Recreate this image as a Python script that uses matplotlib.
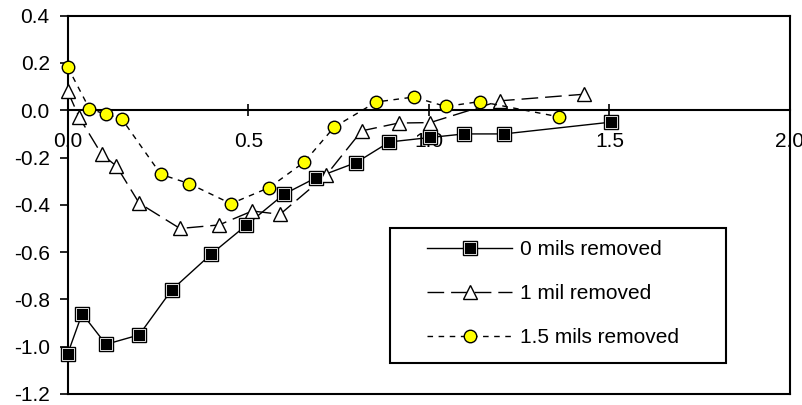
import numpy as np
import matplotlib
matplotlib.use("Agg")
import matplotlib.pyplot as plt
from matplotlib.ticker import FormatStrFormatter
from matplotlib.lines import Line2D
from matplotlib.patches import Rectangle

plt.rcParams['font.family'] = ['Liberation Sans', 'DejaVu Sans']
plt.rcParams['axes.unicode_minus'] = False

# 0 mils removed
x0 = [0.0, 0.04, 0.106, 0.198, 0.288, 0.396, 0.494, 0.599, 0.688, 0.799, 0.891, 1.004, 1.098, 1.208, 1.505]
y0 = [-1.03, -0.86, -0.99, -0.95, -0.76, -0.61, -0.487, -0.355, -0.285, -0.221, -0.134, -0.115, -0.10, -0.10, -0.05]

# 1 mil removed
x1 = [0.0, 0.032, 0.094, 0.135, 0.198, 0.311, 0.419, 0.511, 0.588, 0.716, 0.814, 0.916, 1.004, 1.197, 1.431]
y1 = [0.08, -0.03, -0.186, -0.236, -0.393, -0.50, -0.485, -0.426, -0.44, -0.274, -0.087, -0.054, -0.052, 0.04, 0.068]

# 1.5 mils removed
x2 = [0.0, 0.06, 0.105, 0.149, 0.258, 0.336, 0.452, 0.558, 0.655, 0.738, 0.854, 0.958, 1.047, 1.142, 1.361]
y2 = [0.183, 0.007, -0.017, -0.035, -0.271, -0.31, -0.395, -0.327, -0.219, -0.071, 0.035, 0.056, 0.016, 0.037, -0.028]

labels = ['0 mils removed', '1 mil removed', '1.5 mils removed']
xticks = [0.0, 0.5, 1.0, 1.5, 2.0]
yticks = [-1.2, -1.0, -0.8, -0.6, -0.4, -0.2, 0.0, 0.2, 0.4]

fs = 15

fig = plt.figure(figsize=(8.03, 4.05), dpi=100)
ax = fig.add_axes([0.0843, 0.0272, 0.8995, 0.934])

# squares: black outline, thin white ring, black core
ax.plot(x0, y0, color='k', lw=1.0, marker='s', ms=9.5, mfc='k', mec='k', zorder=3, clip_on=False)
ax.plot(x0, y0, ls='none', marker='s', ms=8, mfc='k', mec='white', mew=0.6, zorder=4, clip_on=False)
ax.plot(x1, y1, color='k', lw=1.0, ls=(0, (12, 5)), marker='^', ms=10, mfc='white', mec='k', mew=1.0,
        zorder=3, clip_on=False)
ax.plot(x2, y2, color='k', lw=1.0, ls=(0, (4, 4)), marker='o', ms=9, mfc='#FFFF00', mec='k', mew=1.0,
        zorder=3, clip_on=False)

ax.set_xlim(0, 2.0)
ax.set_ylim(-1.2, 0.4)
ax.set_xticks(xticks)
ax.set_yticks(yticks)
ax.xaxis.set_major_formatter(FormatStrFormatter('%.1f'))
ax.yaxis.set_major_formatter(FormatStrFormatter('%.1f'))

for s in ax.spines.values():
    s.set_linewidth(1.5)
ax.spines['bottom'].set_position(('data', 0))
ax.axhline(-1.2, color='k', lw=1.5, clip_on=False, zorder=5)

ax.tick_params(axis='x', direction='inout', length=9, width=1.2, labelsize=fs, pad=11)
ax.tick_params(axis='y', direction='out', length=6, width=1.2, labelsize=fs, pad=7)

# legend box drawn separately, legend itself frameless
ax.add_patch(Rectangle((0.4462, 0.0819), 0.4652, 0.3569, transform=ax.transAxes,
                       facecolor='white', edgecolor='k', lw=1.5, zorder=6))
h0 = (Line2D([], [], color='k', lw=1.0, marker='s', ms=9.5, mfc='k', mec='k'),
      Line2D([], [], ls='none', marker='s', ms=8, mfc='k', mec='white', mew=0.6))
h1 = Line2D([], [], color='k', lw=1.0, ls=(0, (12, 5)), marker='^', ms=10, mfc='white', mec='k')
h2 = Line2D([], [], color='k', lw=1.0, ls=(0, (4, 4)), marker='o', ms=9, mfc='#FFFF00', mec='k')
leg = ax.legend([h0, h1, h2], labels, loc='upper left', bbox_to_anchor=(0.4974, 0.407),
                fontsize=fs, handlelength=4.1, labelspacing=1.2, borderpad=0, borderaxespad=0,
                handletextpad=0.35, frameon=False)
leg.set_zorder(7)

fig.savefig('out.png', dpi=100)
